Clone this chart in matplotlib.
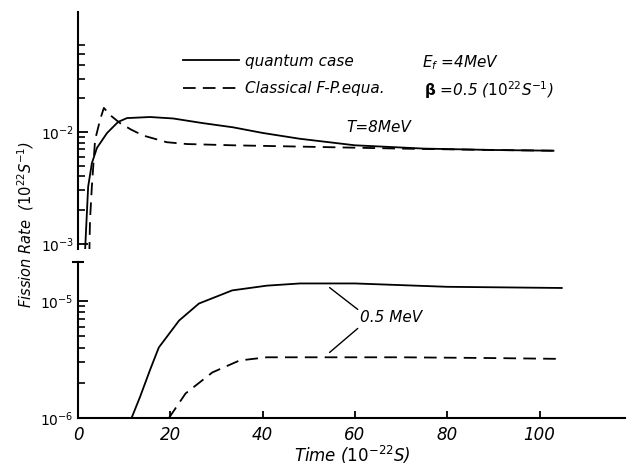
import matplotlib
matplotlib.use("Agg")
import matplotlib.pyplot as plt
from matplotlib.ticker import FixedLocator, NullFormatter, FixedFormatter

# ---------------- data ----------------
# T = 8 MeV, quantum case (solid)
t_q8 = [1.5, 1.6, 2.2, 3.0, 4.1, 6.3, 8.7, 10.6, 15.6, 20.6, 27.0, 33.6, 40.0, 48.0, 60.0, 75.0, 90.0, 103.0]
r_q8 = [8.0e-4, 1.0e-3, 3.24e-3, 5.25e-3, 7.2e-3, 9.8e-3, 1.23e-2, 1.33e-2, 1.36e-2, 1.32e-2, 1.2e-2,
        1.1e-2, 9.8e-3, 8.7e-3, 7.6e-3, 7.1e-3, 6.9e-3, 6.8e-3]
# T = 8 MeV, classical F-P equation (dashed)
t_c8 = [2.45, 2.6, 3.0, 3.7, 4.8, 5.6, 7.0, 9.1, 11.5, 14.1, 19.2, 23.6, 33.6, 48.0, 70.0, 90.0, 103.0]
r_c8 = [8.0e-4, 1.62e-3, 3.24e-3, 8.5e-3, 1.29e-2, 1.64e-2, 1.41e-2, 1.2e-2, 1.05e-2, 9.3e-3, 8.1e-3,
        7.8e-3, 7.6e-3, 7.4e-3, 7.1e-3, 6.9e-3, 6.8e-3]
# T = 0.5 MeV, quantum case (solid)
t_q05 = [11.6, 13.4, 15.6, 17.5, 21.9, 26.2, 33.4, 40.9, 48.1, 60.0, 80.0, 104.8]
r_q05 = [1.0e-6, 1.5e-6, 2.57e-6, 4.0e-6, 6.8e-6, 9.5e-6, 1.23e-5, 1.35e-5, 1.41e-5, 1.41e-5, 1.32e-5, 1.29e-5]
# T = 0.5 MeV, classical (dashed)
t_c05 = [19.7, 23.3, 29.1, 35.0, 40.9, 50.0, 70.0, 90.0, 104.0]
r_c05 = [1.0e-6, 1.62e-6, 2.45e-6, 3.1e-6, 3.3e-6, 3.3e-6, 3.3e-6, 3.25e-6, 3.2e-6]

x_ticks = [0, 20, 40, 60, 80, 100]
x_ticklabels = ["0", "20", "40", "60", "80", "100"]

# ---------------- figure ----------------
W, H = 629, 472
fig = plt.figure(figsize=(W / 100, H / 100), dpi=100)
fig.patch.set_facecolor("white")

def fx(x):
    return x / W

def fy(y):
    return 1 - y / H

left, right = 78, 625
ax_top = fig.add_axes([fx(left), fy(249), fx(right - left), (249 - 12) / H])
ax_bot = fig.add_axes([fx(left), fy(418), fx(right - left), (418 - 262) / H])

XMAX = 118.5
DASH = (0, (7, 4))
LW = 1.3
FS = 12
YFS = 10

for ax in (ax_top, ax_bot):
    ax.set_yscale("log")
    ax.set_xlim(0, XMAX)
    ax.patch.set_alpha(0)
    for s in ("top", "right"):
        ax.spines[s].set_visible(False)
    ax.spines["left"].set_linewidth(1.5)

ax_top.spines["bottom"].set_visible(False)
ax_bot.spines["bottom"].set_linewidth(1.5)

# curves
l_q, = ax_top.plot(t_q8, r_q8, color="black", lw=LW)
l_c, = ax_top.plot(t_c8, r_c8, color="black", lw=LW, linestyle=DASH)
ax_bot.plot(t_q05, r_q05, color="black", lw=LW)
ax_bot.plot(t_c05, r_c05, color="black", lw=LW, linestyle=DASH)

# top panel axis
ax_top.set_ylim(9.0e-4, 0.118)
ax_top.yaxis.set_major_locator(FixedLocator([1e-3, 1e-2]))
ax_top.yaxis.set_major_formatter(FixedFormatter([r"$10^{-3}$", r"$10^{-2}$"]))
ax_top.yaxis.set_minor_locator(FixedLocator([2e-3, 3e-3, 4e-3, 5e-3, 6e-3, 7e-3, 8e-3, 9e-3,
                                             2e-2, 3e-2, 4e-2, 5e-2, 6e-2]))
ax_top.yaxis.set_minor_formatter(NullFormatter())
ax_top.tick_params(axis="y", which="major", direction="in", length=7, width=1.3, labelsize=YFS, pad=3)
ax_top.tick_params(axis="y", which="minor", direction="in", length=5, width=1.2)
ax_top.tick_params(axis="x", which="both", bottom=False, labelbottom=False)

# bottom panel axis
ax_bot.set_ylim(1.0e-6, 2.15e-5)
ax_bot.yaxis.set_major_locator(FixedLocator([1e-6, 1e-5]))
ax_bot.yaxis.set_major_formatter(FixedFormatter([r"$10^{-6}$", r"$10^{-5}$"]))
ax_bot.yaxis.set_minor_locator(FixedLocator([2e-6, 3e-6, 4e-6, 5e-6, 6e-6, 7e-6, 8e-6, 9e-6]))
ax_bot.yaxis.set_minor_formatter(NullFormatter())
ax_bot.tick_params(axis="y", which="major", direction="in", length=7, width=1.3, labelsize=YFS, pad=3)
ax_bot.tick_params(axis="y", which="minor", direction="in", length=5, width=1.2)
ax_bot.set_xticks(x_ticks)
ax_bot.set_xticklabels(x_ticklabels, fontstyle="italic")
ax_bot.tick_params(axis="x", direction="in", length=5, width=1.3, labelsize=FS, pad=6)
# cap on the top of the lower axis
ax_bot.plot([0], [1], marker="_", ms=9, mew=1.5, color="black",
            transform=ax_bot.transAxes, clip_on=False)

# legend
ax_top.legend([l_q, l_c], ["quantum case", "Classical F-P.equa."],
              loc="upper left", bbox_to_anchor=(fx(169), fy(40)), bbox_transform=fig.transFigure,
              frameon=False, handlelength=3.7, handletextpad=0.4, labelspacing=0.82,
              prop={"size": 11, "style": "italic"})

# parameter texts
fig.text(fx(422), fy(63), r"E$_f$ =4MeV", fontsize=11, fontstyle="italic", va="center", ha="left")
fig.text(fx(424), fy(90), r"$\mathbf{\beta}$ =0.5 ($10^{22}$S$^{-1}$)", fontsize=11,
         fontstyle="italic", va="center", ha="left")

ax_top.text(58.2, 1.086e-2, "T=8MeV", fontsize=11, fontstyle="italic", va="center", ha="left")

# 0.5 MeV label with leader lines
ax_bot.text(61.0, 7.2e-6, "0.5 MeV", fontsize=11, fontstyle="italic", va="center", ha="left")
ax_bot.annotate("", xy=(54.5, 1.3e-5), xytext=(60.6, 8.46e-6),
                arrowprops=dict(arrowstyle="-", lw=1.0, color="black", shrinkA=0, shrinkB=0))
ax_bot.annotate("", xy=(54.5, 3.63e-6), xytext=(60.6, 5.82e-6),
                arrowprops=dict(arrowstyle="-", lw=1.0, color="black", shrinkA=0, shrinkB=0))

# axis titles
fig.text(fx(26), fy(225), r"Fission Rate  ($10^{22}$S$^{-1}$)", rotation=90, fontsize=10.5,
         fontstyle="italic", va="center", ha="center")
fig.text(fx(352), fy(455), r"Time ($10^{-22}$S)", fontsize=12, fontstyle="italic",
         va="center", ha="center")

fig.savefig("out.png", dpi=100, facecolor="white")
